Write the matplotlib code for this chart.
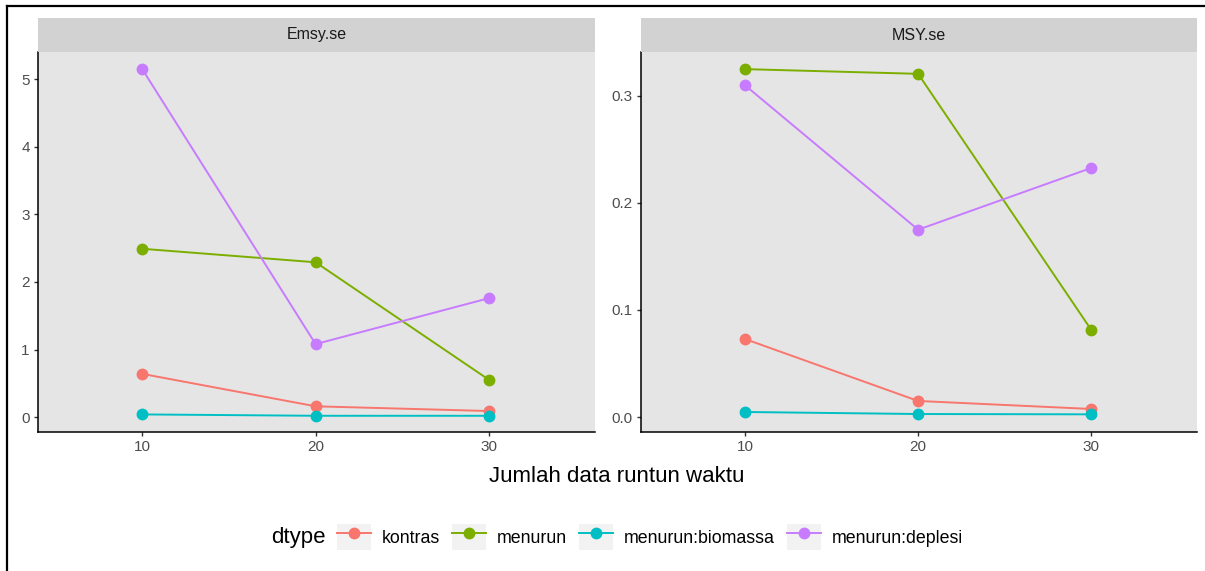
import numpy as np
import matplotlib.pyplot as plt
from matplotlib.lines import Line2D
from matplotlib.patches import Rectangle
from matplotlib.legend_handler import HandlerLine2D

plt.rcParams['font.family'] = ['Liberation Sans', 'DejaVu Sans']

# data
n_years = [10, 20, 30]
dtypes = ['kontras', 'menurun', 'menurun:biomassa', 'menurun:deplesi']
colors = ['#F8766D', '#7CAE00', '#00BFC4', '#C77CFF']

emsy_se = {
    'kontras': [0.64, 0.16, 0.09],
    'menurun': [2.49, 2.29, 0.55],
    'menurun:biomassa': [0.04, 0.02, 0.02],
    'menurun:deplesi': [5.15, 1.08, 1.76],
}
msy_se = {
    'kontras': [0.0729, 0.0150, 0.0075],
    'menurun': [0.325, 0.3206, 0.0813],
    'menurun:biomassa': [0.0047, 0.0028, 0.0025],
    'menurun:deplesi': [0.310, 0.175, 0.2327],
}
panels = [('Emsy.se', emsy_se, [0, 1, 2, 3, 4, 5], ['0', '1', '2', '3', '4', '5'], (-0.22, 5.40)),
          ('MSY.se', msy_se, [0, 0.1, 0.2, 0.3], ['0.0', '0.1', '0.2', '0.3'], (-0.014, 0.341))]

W, H = 1205, 571
fig = plt.figure(figsize=(W / 100, H / 100), dpi=100)

def fx(px):
    return px / W

def fy(py):
    return 1 - py / H

panel_x = [(38, 595), (641, 1197)]
top, bottom, strip_top = 52, 432, 18

for (name, data, yt, ytl, ylim), (x0, x1) in zip(panels, panel_x):
    ax = fig.add_axes([fx(x0), fy(bottom), fx(x1 - x0), fy(top) - fy(bottom)])
    ax.set_facecolor('#E5E5E5')
    for d, c in zip(dtypes, colors):
        ax.plot(n_years, data[d], color=c, lw=1.4, marker='o', ms=7.5, zorder=3)
    ax.set_xlim(4.0, 36.1)
    ax.set_ylim(*ylim)
    ax.set_xticks([10, 20, 30])
    ax.set_yticks(yt)
    ax.set_yticklabels(ytl)
    for s in ['top', 'right']:
        ax.spines[s].set_visible(False)
    for s in ['left', 'bottom']:
        ax.spines[s].set_linewidth(1.1)
        ax.spines[s].set_color('black')
    ax.tick_params(length=3, width=1, color='#333333', labelcolor='#4D4D4D',
                   labelsize=11, pad=3)
    # facet strip
    sax = fig.add_axes([fx(x0), fy(top), fx(x1 - x0), fy(strip_top) - fy(top)])
    sax.set_facecolor('#D2D2D2')
    sax.set_xticks([])
    sax.set_yticks([])
    for s in sax.spines.values():
        s.set_visible(False)
    sax.text(0.5, 0.5, name, ha='center', va='center', fontsize=11.5,
             color='#1A1A1A', transform=sax.transAxes)

fig.text(fx(617), fy(476), 'Jumlah data runtun waktu', ha='center', va='center',
         fontsize=16, color='black')

# frame of the screenshot
fig.add_artist(Line2D([fx(7), 1], [fy(6), fy(6)], color='black', lw=1.6))
fig.add_artist(Line2D([fx(7), fx(7)], [fy(6), 0], color='black', lw=1.6))


class KeyHandler(HandlerLine2D):
    def create_artists(self, legend, orig_handle, xdescent, ydescent,
                       width, height, fontsize, trans):
        arts = super().create_artists(legend, orig_handle, xdescent, ydescent,
                                      width, height, fontsize, trans)
        bg = Rectangle((-xdescent, -ydescent), width, height,
                       facecolor='#F2F2F2', edgecolor='none', transform=trans)
        return [bg] + list(arts)


handles = [Line2D([], [], color=c, lw=1.4, marker='o', ms=7.5) for c in colors]
fig.text(fx(298), fy(537), 'dtype', ha='center', va='center', fontsize=16)
fig.legend(handles, dtypes, loc='center left', bbox_to_anchor=(fx(337), fy(537)),
           ncol=4, frameon=False, fontsize=12.8, handlelength=1.9, handleheight=1.95,
           handletextpad=0.62, columnspacing=0.68, borderpad=0, borderaxespad=0,
           handler_map={Line2D: KeyHandler(numpoints=1)})

fig.savefig('out.png', dpi=100)
